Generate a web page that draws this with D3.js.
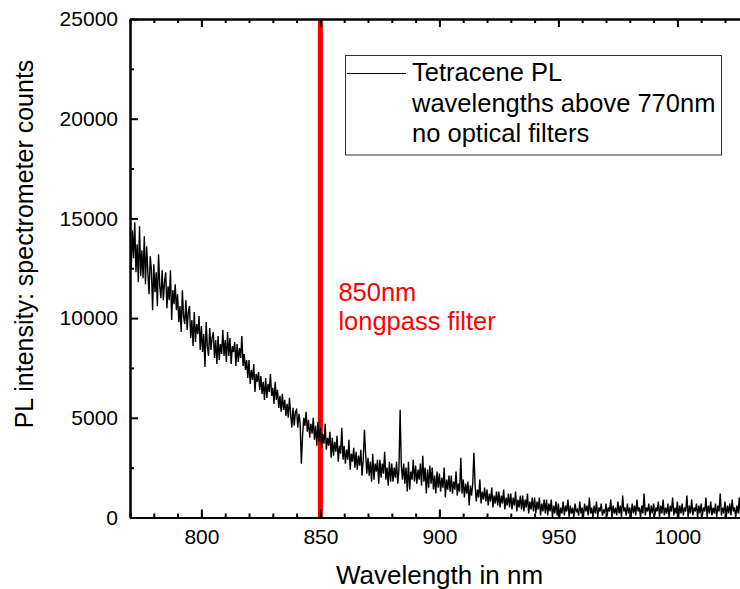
<!DOCTYPE html>
<html>
<head>
<meta charset="utf-8">
<script src="https://cdn.jsdelivr.net/npm/d3@7"></script>
<style>
  html, body { margin: 0; padding: 0; background: #fff; }
  svg { display: block; font-family: "Liberation Sans", Arial, sans-serif; }
</style>
</head>
<body>
<svg id="chart" width="740" height="589"></svg>
<script>
// Spectrometer sampling grid (nm)
const wlStart = 770;
const wlStep = 0.5;

// PL counts, one value per 0.5 nm from 770 nm, ten values (5 nm) per row
const counts = [
  13900, 12500, 14400, 13000, 14800, 12300, 13700, 11800, 14600, 12100,
  13400, 12000, 14100, 11700, 13600, 12300, 11200, 13100, 12400, 10400,
  12700, 11300, 12300, 10600, 13200, 11600, 11000, 12400, 10900, 11800,
  12300, 10500, 11600, 10900, 12400, 9900, 11400, 10700, 11700, 10400,
  11200, 9800, 10600, 9300, 11400, 10100, 9700, 10900, 9400, 10300,
  10600, 9000, 9900, 8600, 10300, 8800, 9700, 9200, 10100, 8400,
  9600, 8300, 9200, 7550, 9800, 8600, 8100, 9500, 8400, 9000,
  9300, 8000, 8900, 7700, 9100, 7900, 8700, 8200, 9400, 8100,
  8900, 7800, 9300, 8100, 9000, 7700, 8600, 8300, 8800, 7600,
  8700, 7800, 8500, 8000, 9100, 7600, 8200, 7400, 7900, 7000,
  7900, 6700, 7400, 6900, 7700, 6300, 7200, 6800, 7300, 6400,
  7100, 6200, 6800, 5900, 7000, 6000, 6700, 6300, 7200, 6100,
  6500, 5700, 6800, 5900, 6400, 5500, 6100, 5300, 6200, 5400,
  5900, 5100, 5700, 5000, 6000, 5200, 4500, 5500, 4600, 5300,
  5400, 4500, 5200, 4700, 2700, 4100, 5000, 4600, 5300, 4300,
  4900, 4000, 4700, 4200, 5000, 3900, 4600, 3600, 4800, 3800,
  4500, 3500, 4200, 3700, 4700, 3400, 4000, 3600, 4300, 3000,
  4000, 3100, 3800, 3300, 4100, 2800, 3600, 3200, 4500, 2900,
  3600, 2700, 3400, 2900, 3900, 2400, 3200, 2800, 3500, 2500,
  3300, 2400, 3100, 2600, 3400, 2100, 2900, 4400, 3200, 2200,
  3000, 2100, 2800, 1800, 3200, 1900, 2700, 2300, 2900, 1700,
  2900, 2000, 2700, 2200, 3300, 1900, 2500, 1600, 2800, 1800,
  2700, 1800, 2500, 2000, 2800, 1700, 2400, 5400, 2600, 1900,
  2700, 1700, 2500, 1300, 2800, 1400, 2300, 1900, 2900, 1800,
  2600, 1700, 2400, 1900, 2700, 1600, 3100, 1800, 2500, 1200,
  2400, 1500, 2600, 1700, 2500, 1400, 2100, 1200, 2300, 1500,
  2200, 1300, 2000, 1500, 2500, 1000, 1900, 1400, 2100, 1300,
  2100, 1200, 1800, 1400, 2300, 1100, 1700, 1300, 3000, 1200,
  1900, 1000, 1700, 1200, 1800, 600, 1600, 1100, 1700, 3250,
  1600, 800, 1400, 1000, 1900, 700, 1300, 900, 1500, 800,
  1400, 600, 1200, 800, 1500, 500, 1100, 700, 1300, 600,
  1300, 500, 1100, 700, 1400, 400, 1000, 600, 1200, 500,
  1200, 400, 1000, 600, 1300, 300, 900, 500, 1100, 400,
  1100, 300, 900, 500, 1200, 200, 800, 400, 1000, 300,
  1000, 200, 800, 400, 1000, 100, 700, 300, 900, 200,
  900, 100, 700, 300, 900, 0, 600, 200, 800, 100,
  700, 0, 500, 200, 800, 100, 600, 300, 900, 0,
  600, 200, 500, 0, 700, 300, 400, 100, 800, 200,
  500, 0, 700, 300, 600, 100, 1000, 200, 500, 0,
  600, 200, 800, 0, 500, 300, 700, 100, 400, 200,
  700, 100, 500, 300, 900, 0, 600, 200, 500, 100,
  800, 200, 600, 0, 1100, 300, 500, 100, 700, 200,
  500, 0, 700, 200, 600, 100, 900, 300, 500, 0,
  600, 200, 1200, 100, 500, 300, 700, 0, 600, 200,
  700, 100, 500, 300, 800, 0, 600, 200, 900, 100,
  500, 200, 700, 0, 600, 300, 1000, 100, 500, 200,
  800, 0, 600, 200, 700, 100, 500, 300, 1100, 0,
  600, 200, 900, 100, 500, 300, 700, 0, 600, 200,
  700, 100, 500, 300, 1000, 0, 600, 200, 800, 100,
  500, 200, 700, 0, 600, 300, 1200, 100, 500, 200,
  800, 0, 600, 200, 700, 100, 900, 300, 500, 0,
  600, 200, 1000, 100, 500, 300, 700, 0, 600, 200,
  500
];

// Axis settings
const xDomain = [770, 1030];
const yDomain = [0, 25000];
const xMajorTicks = [800, 850, 900, 950, 1000];
const xMinorTicks = d3.range(770, 1031, 10);
const yMajorTicks = [0, 5000, 10000, 15000, 20000, 25000];
const yMinorTicks = [2500, 7500, 12500, 17500, 22500];

// Filter marker and labels
const filterEdge = 850;
const filterLabel = ["850nm", "longpass filter"];
const legendLines = ["Tetracene PL", "wavelengths above 770nm", "no optical filters"];
const xTitle = "Wavelength in nm";
const yTitle = "PL intensity: spectrometer counts";

const plot = { left: 130, right: 748.8, top: 19, bottom: 517.5 };

const svg = d3.select("#chart");

const x = d3.scaleLinear().domain(xDomain).range([plot.left, plot.right]);
const y = d3.scaleLinear().domain(yDomain).range([plot.bottom, plot.top]);

svg.append("defs").append("clipPath").attr("id", "plotClip")
  .append("rect")
  .attr("x", plot.left).attr("y", plot.top)
  .attr("width", plot.right - plot.left).attr("height", plot.bottom - plot.top);

// Longpass filter edge
svg.append("line")
  .attr("x1", x(filterEdge)).attr("x2", x(filterEdge))
  .attr("y1", y(yDomain[1])).attr("y2", y(yDomain[0]))
  .attr("stroke", "#ff0000").attr("stroke-width", 5);

// Spectrum trace
const spectrum = counts.map((c, i) => ({ wl: wlStart + i * wlStep, c }));
const line = d3.line().x(d => x(d.wl)).y(d => y(d.c));
svg.append("path")
  .datum(spectrum)
  .attr("clip-path", "url(#plotClip)")
  .attr("fill", "none")
  .attr("stroke", "#000")
  .attr("stroke-width", 1.4)
  .attr("stroke-linejoin", "miter")
  .attr("d", line);

// Axes
function styleAxis(g) {
  g.attr("font-family", null);
  g.selectAll(".domain").attr("stroke", "#000").attr("stroke-width", 2);
  g.selectAll(".tick line").attr("stroke", "#000").attr("stroke-width", 2);
  g.selectAll(".tick text").attr("fill", "#000").attr("font-size", 21);
}

// minor ticks
svg.append("g").attr("transform", `translate(0,${plot.bottom})`)
  .call(d3.axisBottom(x).tickValues(xMinorTicks).tickSize(-4).tickSizeOuter(0).tickFormat(""))
  .call(styleAxis);
svg.append("g").attr("transform", `translate(0,${plot.top})`)
  .call(d3.axisTop(x).tickValues(xMinorTicks).tickSize(-4).tickSizeOuter(0).tickFormat(""))
  .call(styleAxis);
svg.append("g").attr("transform", `translate(${plot.left},0)`)
  .call(d3.axisLeft(y).tickValues(yMinorTicks).tickSize(-4).tickSizeOuter(0).tickFormat(""))
  .call(styleAxis);
svg.append("g").attr("transform", `translate(${plot.right},0)`)
  .call(d3.axisRight(y).tickValues(yMinorTicks).tickSize(-4).tickSizeOuter(0).tickFormat(""))
  .call(styleAxis);

// major ticks with labels
svg.append("g").attr("transform", `translate(0,${plot.bottom})`)
  .call(d3.axisBottom(x).tickValues(xMajorTicks).tickSize(-8).tickSizeOuter(0).tickPadding(12).tickFormat(d3.format("d")))
  .call(styleAxis);
svg.append("g").attr("transform", `translate(0,${plot.top})`)
  .call(d3.axisTop(x).tickValues(xMajorTicks).tickSize(-8).tickSizeOuter(0).tickFormat(""))
  .call(styleAxis);
svg.append("g").attr("transform", `translate(${plot.left},0)`)
  .call(d3.axisLeft(y).tickValues(yMajorTicks).tickSize(-8).tickSizeOuter(0).tickPadding(12).tickFormat(d3.format("d")))
  .call(styleAxis);
svg.append("g").attr("transform", `translate(${plot.right},0)`)
  .call(d3.axisRight(y).tickValues(yMajorTicks).tickSize(-8).tickSizeOuter(0).tickFormat(""))
  .call(styleAxis);

// Axis titles
svg.append("text")
  .attr("x", 439.5).attr("y", 584)
  .attr("text-anchor", "middle")
  .attr("font-size", 26).attr("fill", "#000")
  .text(xTitle);
svg.append("text")
  .attr("transform", "translate(33,244) rotate(-90)")
  .attr("text-anchor", "middle")
  .attr("font-size", 25).attr("fill", "#000")
  .text(yTitle);

// Filter annotation
filterLabel.forEach((t, i) => {
  svg.append("text")
    .attr("x", x(filterEdge) + 18).attr("y", 301 + i * 29)
    .attr("font-size", 25.5).attr("fill", "#ff0000")
    .text(t);
});

// Legend
const lg = svg.append("g");
lg.append("rect")
  .attr("x", 345.5).attr("y", 55.5).attr("width", 376).attr("height", 99.5)
  .attr("fill", "#fff").attr("stroke", "#333").attr("stroke-width", 1);
lg.append("line")
  .attr("x1", 347).attr("x2", 406).attr("y1", 73.5).attr("y2", 73.5)
  .attr("stroke", "#000").attr("stroke-width", 1.2);
legendLines.forEach((t, i) => {
  lg.append("text")
    .attr("x", 412).attr("y", 81 + i * 30.5)
    .attr("font-size", 25.5).attr("fill", "#000")
    .text(t);
});
</script>
</body>
</html>
